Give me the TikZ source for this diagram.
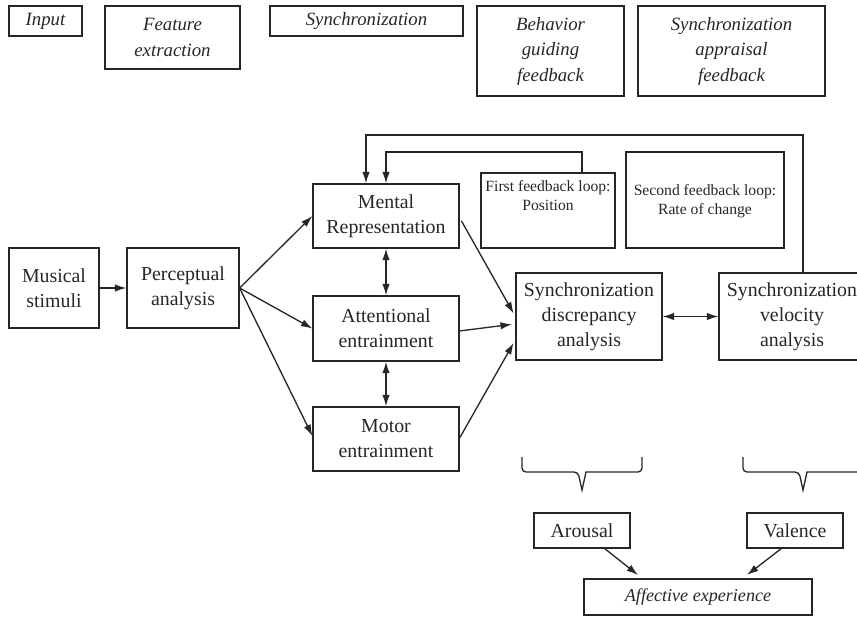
\documentclass[tikz,border=0pt]{standalone}
\usepackage{fontspec}
\setmainfont{Liberation Serif}
\usetikzlibrary{arrows.meta,positioning,calc}

\begin{document}
\begin{tikzpicture}[x=0.02cm,y=-0.02cm,
    line width=0.75pt, draw=black!85, text=black!85,
    box/.style={draw, inner sep=0pt, align=center, font=\fontsize{11.3pt}{14.2pt}\selectfont},
    headbox/.style={box, font=\fontsize{10.7pt}{14.5pt}\selectfont\itshape},
    loopbox/.style={draw, inner sep=0pt},
    looptext/.style={inner sep=0pt, align=center, font=\fontsize{8.9pt}{10.8pt}\selectfont},
    arr/.style={-{Latex[length=6.5pt,width=4.2pt]}},
    dblarr/.style={{Latex[length=6.5pt,width=4.2pt]}-{Latex[length=6.5pt,width=4.2pt]}}]
  \useasboundingbox (0,0) rectangle (857,616);
  \clip (0,0) rectangle (857,616);
  % header row
  \node[headbox, minimum width=1.46cm, minimum height=0.6cm] (input) at (45.5,21) {Input};
  \node[headbox, minimum width=2.7cm, minimum height=1.26cm] (featext) at (172.5,37.5) {Feature\\extraction};
  \node[headbox, minimum width=3.86cm, minimum height=0.6cm] (synchead) at (366.5,21) {Synchronization};
  \node[headbox, minimum width=2.94cm, minimum height=1.8cm] (behavfb) at (550.5,51) {Behavior\\guiding\\feedback};
  \node[headbox, minimum width=3.74cm, minimum height=1.8cm] (appraisfb) at (731.5,51) {Synchronization\\appraisal\\feedback};
  % input and perception
  \node[box, minimum width=1.8cm, minimum height=1.6cm] (stimuli) at (54,288) {Musical\\stimuli};
  \node[box, minimum width=2.24cm, minimum height=1.6cm] (percept) at (183,288) {Perceptual\\analysis};
  % middle column
  \node[box, minimum width=2.92cm, minimum height=1.28cm] (mental) at (386,216) {Mental\\Representation};
  \node[box, minimum width=2.92cm, minimum height=1.3cm] (attent) at (386,328.5) {Attentional\\entrainment};
  \node[box, minimum width=2.92cm, minimum height=1.28cm] (motor) at (386,439) {Motor\\entrainment};
  % synchronization analyses
  \node[box, minimum width=2.92cm, minimum height=1.74cm] (discrep) at (589,316.5) {Synchronization\\discrepancy\\analysis};
  \node[box, minimum width=2.92cm, minimum height=1.74cm] (velocity) at (792,316.5) {Synchronization\\velocity\\analysis};
  % feedback loop labels
  \node[loopbox, minimum width=2.68cm, minimum height=1.5cm] (firstloop) at (548,210.5) {};
  \node[looptext, below=4.1pt of firstloop.north] (firsttext) {First feedback loop:\\Position};
  \node[loopbox, minimum width=3.16cm, minimum height=1.92cm] (secondloop) at (705,200) {};
  \node[looptext, below=18.3pt of secondloop.north] (secondtext) {Second feedback loop:\\Rate of change};
  % outcome
  \node[box, minimum width=1.92cm, minimum height=0.7cm] (arousal) at (582,530.5) {Arousal};
  \node[box, minimum width=1.92cm, minimum height=0.7cm] (valence) at (795,530.5) {Valence};
  \node[box, minimum width=4.56cm, minimum height=0.72cm, font=\fontsize{10.3pt}{13pt}\selectfont\itshape] (affect) at (698,597) {Affective experience};
  % connectors
  \draw[arr] (stimuli) -- (percept);
  \draw[arr] (percept.east) -- (mental.west);
  \draw[arr] (percept.east) -- (attent.west);
  \draw[arr] (percept.east) -- ([yshift=1.7pt]motor.west);
  \draw[dblarr] (mental) -- (attent);
  \draw[dblarr] (attent) -- (motor);
  \draw[arr, shorten <=2pt, shorten >=2pt] ([yshift=-1pt]mental.east) -- (discrep.west);
  \draw[arr, shorten >=2pt] ([yshift=-1.4pt]attent.east) -- ([yshift=-4.2pt]discrep.west);
  \draw[arr, shorten >=2pt] ([yshift=0.6pt]motor.east) -- ([yshift=-13.3pt]discrep.west);
  \draw[dblarr] (discrep) -- (velocity);
  % feedback loops
  \coordinate (outerA) at (803,135); \coordinate (outerB) at (366,135);
  \coordinate (innerA) at (582,152); \coordinate (innerB) at (386,152);
  \draw[arr] (velocity.north -| outerA) -- (outerA) -- (outerB) -- (mental.north -| outerB);
  \draw[arr] (firstloop.north -| innerA) -- (innerA) -- (innerB) -- (mental.north);
  % braces
  \draw[rounded corners=0.08cm] (522,457) -- (522,472) -- (578,472) [sharp corners] -- (582,490) -- (586,472) [rounded corners=0.08cm] -- (642,472) -- (642,457);
  \draw[rounded corners=0.08cm] (743,457) -- (743,472) -- (799,472) [sharp corners] -- (803,490) -- (807,472) [rounded corners=0.08cm] -- (863,472) -- (863,457);
  \draw[arr] (604,548) -- (638,575);
  \draw[arr] (782,548) -- (747,575);
\end{tikzpicture}
\end{document}
